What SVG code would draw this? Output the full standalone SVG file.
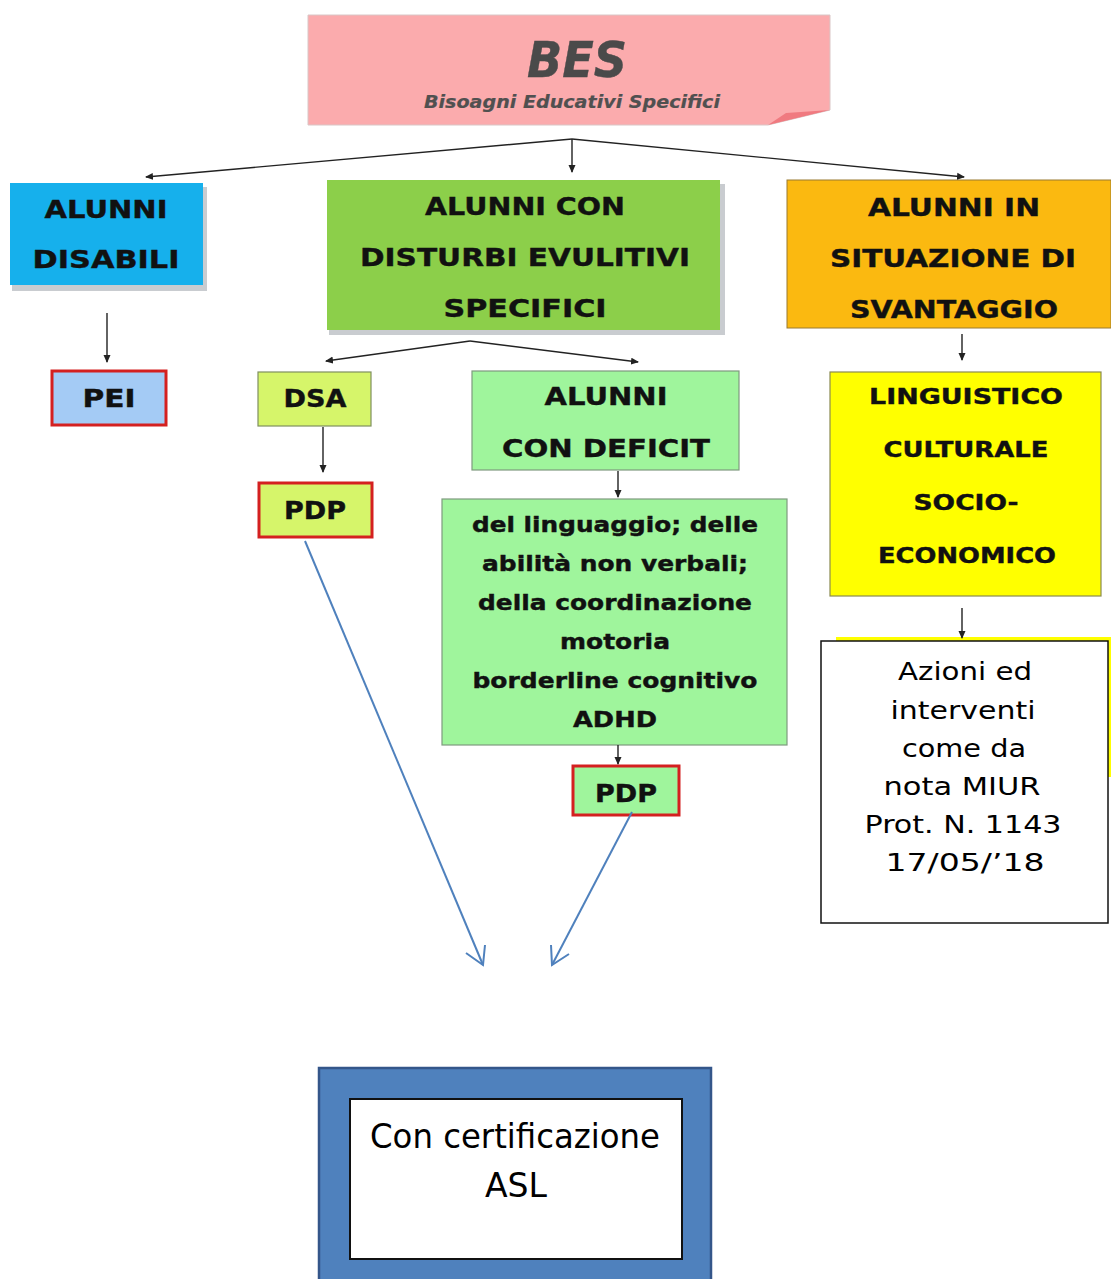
<svg xmlns="http://www.w3.org/2000/svg" width="1111" height="1279" viewBox="0 0 1111 1279">
<style>
.b{font-family:"DejaVu Sans","Liberation Sans",sans-serif;font-weight:bold;fill:#111;stroke:#111;stroke-width:0.4;text-anchor:middle;}
.n{font-family:"DejaVu Sans","Liberation Sans",sans-serif;fill:#000;text-anchor:middle;}
.c{stroke:#222;stroke-width:1.4;fill:none;marker-end:url(#ah);}
.bl{stroke:#4f81bd;stroke-width:2;fill:none;}
.sh{fill:#c9ccd0;}
</style>
<defs>
<marker id="ah" markerWidth="8" markerHeight="8" refX="7" refY="4" orient="auto" markerUnits="userSpaceOnUse">
<path d="M0,0.5 L8,4 L0,7.5 Z" fill="#222"/>
</marker>
</defs>
<rect width="1111" height="1279" fill="#fff"/>

<g id="bes">
<path d="M308,15 L830,15 L830,110 L768,125 L308,125 Z" fill="#fbabad" stroke="#d9c6c6" stroke-width="1"/>
<path d="M768,125 L786,113 L830,110 Z" fill="#f07a80"/>
<text class="b" x="577" y="77" font-size="50" font-style="italic" style="fill:#4a4a4a;stroke:#4a4a4a" textLength="100" lengthAdjust="spacingAndGlyphs">BES</text>
<text class="b" x="572" y="108" font-size="18" font-style="italic" style="fill:#505050;stroke:#505050;stroke-width:0.2" textLength="296" lengthAdjust="spacingAndGlyphs">Bisoagni Educativi Specifici</text>
</g>

<g id="disabili">
<rect class="sh" x="12" y="187" width="195" height="104"/>
<rect x="10" y="183" width="193" height="102" fill="#16b0ec"/>
<text class="b" x="106" y="218" font-size="25" textLength="123" lengthAdjust="spacingAndGlyphs">ALUNNI</text>
<text class="b" x="106" y="268" font-size="25" textLength="147" lengthAdjust="spacingAndGlyphs">DISABILI</text>
</g>

<g id="disturbi">
<rect class="sh" x="329" y="184" width="396" height="151"/>
<rect x="327" y="180" width="393" height="150" fill="#8ccf4a"/>
<text class="b" x="525" y="215" font-size="25" textLength="200" lengthAdjust="spacingAndGlyphs">ALUNNI CON</text>
<text class="b" x="525" y="266" font-size="25" textLength="330" lengthAdjust="spacingAndGlyphs">DISTURBI EVULITIVI</text>
<text class="b" x="525" y="317" font-size="25" textLength="163" lengthAdjust="spacingAndGlyphs">SPECIFICI</text>
</g>

<g id="svantaggio">
<rect x="787" y="180" width="324" height="148" fill="#fbb910" stroke="#9a7a30" stroke-width="1"/>
<text class="b" x="954" y="216" font-size="25" textLength="172" lengthAdjust="spacingAndGlyphs">ALUNNI IN</text>
<text class="b" x="953" y="267" font-size="25" textLength="246" lengthAdjust="spacingAndGlyphs">SITUAZIONE DI</text>
<text class="b" x="954" y="318" font-size="25" textLength="208" lengthAdjust="spacingAndGlyphs">SVANTAGGIO</text>
</g>

<g id="pei">
<rect x="52" y="371" width="114" height="54" fill="#a4cbf5" stroke="#d42020" stroke-width="3"/>
<text class="b" x="109" y="407" font-size="25" textLength="53" lengthAdjust="spacingAndGlyphs">PEI</text>
</g>

<g id="dsa">
<rect x="258" y="372" width="113" height="54" fill="#d6f56a" stroke="#7f8f60" stroke-width="1.2"/>
<text class="b" x="315" y="407" font-size="25" textLength="63" lengthAdjust="spacingAndGlyphs">DSA</text>
</g>

<g id="pdp1">
<rect x="259" y="483" width="113" height="54" fill="#d6f56a" stroke="#d42020" stroke-width="3"/>
<text class="b" x="315" y="519" font-size="25" textLength="62" lengthAdjust="spacingAndGlyphs">PDP</text>
</g>

<g id="deficit">
<rect x="472" y="371" width="267" height="99" fill="#9ff59c" stroke="#7f9a7f" stroke-width="1.2"/>
<text class="b" x="606" y="405" font-size="25" textLength="123" lengthAdjust="spacingAndGlyphs">ALUNNI</text>
<text class="b" x="606" y="457" font-size="25" textLength="208" lengthAdjust="spacingAndGlyphs">CON DEFICIT</text>
</g>

<g id="deficit-list">
<rect x="442" y="499" width="345" height="246" fill="#9ff59c" stroke="#7f9a7f" stroke-width="1.2"/>
<text class="b" x="615" y="532" font-size="21" textLength="286" lengthAdjust="spacingAndGlyphs">del linguaggio; delle</text>
<text class="b" x="615" y="571" font-size="21" textLength="266" lengthAdjust="spacingAndGlyphs">abilità non verbali;</text>
<text class="b" x="615" y="610" font-size="21" textLength="274" lengthAdjust="spacingAndGlyphs">della coordinazione</text>
<text class="b" x="615" y="649" font-size="21" textLength="110" lengthAdjust="spacingAndGlyphs">motoria</text>
<text class="b" x="615" y="688" font-size="21" textLength="285" lengthAdjust="spacingAndGlyphs">borderline cognitivo</text>
<text class="b" x="615" y="727" font-size="21" textLength="84" lengthAdjust="spacingAndGlyphs">ADHD</text>
</g>

<g id="pdp2">
<rect x="573" y="766" width="106" height="49" fill="#9ff59c" stroke="#d42020" stroke-width="3"/>
<text class="b" x="626" y="802" font-size="25" textLength="62" lengthAdjust="spacingAndGlyphs">PDP</text>
</g>

<g id="linguistico">
<rect x="830" y="372" width="271" height="224" fill="#ffff00" stroke="#8a8a50" stroke-width="1.2"/>
<text class="b" x="966" y="404" font-size="22" textLength="194" lengthAdjust="spacingAndGlyphs">LINGUISTICO</text>
<text class="b" x="966" y="457" font-size="22" textLength="165" lengthAdjust="spacingAndGlyphs">CULTURALE</text>
<text class="b" x="966" y="510" font-size="22" textLength="105" lengthAdjust="spacingAndGlyphs">SOCIO-</text>
<text class="b" x="967" y="563" font-size="22" textLength="178" lengthAdjust="spacingAndGlyphs">ECONOMICO</text>
</g>

<g id="azioni">
<rect x="836" y="637" width="275" height="140" fill="#ffff00"/>
<rect x="821" y="641" width="287" height="282" fill="#fff" stroke="#111" stroke-width="1.5"/>
<text class="n" x="965" y="680" font-size="25" textLength="134" lengthAdjust="spacingAndGlyphs">Azioni ed</text>
<text class="n" x="963" y="719" font-size="25" textLength="145" lengthAdjust="spacingAndGlyphs">interventi</text>
<text class="n" x="964" y="757" font-size="25" textLength="124" lengthAdjust="spacingAndGlyphs">come da</text>
<text class="n" x="962" y="795" font-size="25" textLength="157" lengthAdjust="spacingAndGlyphs">nota MIUR</text>
<text class="n" x="963" y="833" font-size="25" textLength="197" lengthAdjust="spacingAndGlyphs">Prot. N. 1143</text>
<text class="n" x="965" y="871" font-size="25" textLength="159" lengthAdjust="spacingAndGlyphs">17/05/’18</text>
</g>

<g id="certificazione">
<rect x="319" y="1068" width="392" height="215" fill="#4f81bd" stroke="#34568a" stroke-width="2.5"/>
<rect x="350" y="1099" width="332" height="160" fill="#fff" stroke="#111" stroke-width="2"/>
<text class="n" x="515" y="1148" font-size="34" textLength="290" lengthAdjust="spacingAndGlyphs">Con certificazione</text>
<text class="n" x="516" y="1197" font-size="34" textLength="62" lengthAdjust="spacingAndGlyphs">ASL</text>
</g>

<g id="connectors">
<path class="c" d="M572,139 L146,177"/>
<path class="c" d="M572,139 L572,172"/>
<path class="c" d="M572,139 L964,177"/>
<path class="c" d="M107,313 L107,362"/>
<path class="c" d="M470,341 L326,361"/>
<path class="c" d="M470,341 L638,362"/>
<path class="c" d="M323,427 L323,472"/>
<path class="c" d="M618,471 L618,497"/>
<path class="c" d="M618,745 L618,764"/>
<path class="c" d="M962,334 L962,360"/>
<path class="c" d="M962,608 L962,638"/>
<path class="bl" d="M305,541 L483,965"/>
<path class="bl" d="M466,953 L483,965 L485,945"/>
<path class="bl" d="M632,812 L552,965"/>
<path class="bl" d="M551,945 L552,965 L569,954"/>
</g>
</svg>
